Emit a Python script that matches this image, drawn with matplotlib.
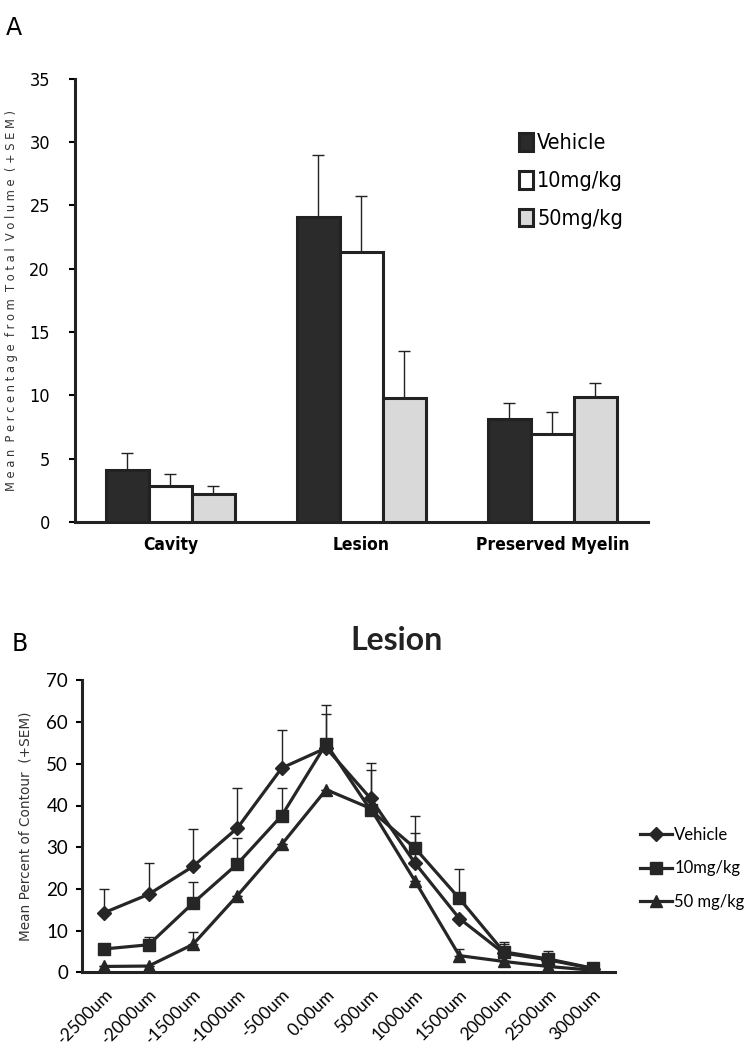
import matplotlib
matplotlib.use("Agg")
import matplotlib.pyplot as plt
from matplotlib import font_manager as fm
import numpy as np

# find a condensed sans font if one is installed
narrow_reg = None
narrow_bold = None
for f in fm.fontManager.ttflist:
    nm = f.name
    if ("Narrow" in nm or "Condensed" in nm or f.stretch in ("condensed", "semi-condensed")) and f.style == "normal":
        if f.weight in ("bold", 700) and narrow_bold is None:
            narrow_bold = f.fname
        elif f.weight in ("normal", "regular", 400) and narrow_reg is None:
            narrow_reg = f.fname


def fpA(size, bold=False):
    fn = narrow_bold if bold else narrow_reg
    if fn:
        return fm.FontProperties(fname=fn, size=size)
    return fm.FontProperties(family="Liberation Sans", size=size * 0.85,
                             weight="bold" if bold else "normal")

# ---------------- Data ----------------
categories = ["Cavity", "Lesion", "Preserved Myelin"]
groups_a = ["Vehicle", "10mg/kg", "50mg/kg"]
vehicle_a = [4.1, 24.1, 8.1]
vehicle_a_err = [1.35, 4.9, 1.3]
mg10_a = [2.8, 21.3, 6.9]
mg10_a_err = [1.0, 4.4, 1.8]
mg50_a = [2.2, 9.8, 9.9]
mg50_a_err = [0.6, 3.7, 1.1]

positions = ["-2500um", "-2000um", "-1500um", "-1000um", "-500um", "0.00um",
             "500um", "1000um", "1500um", "2000um", "2500um", "3000um"]
vehicle_b = [14.3, 18.7, 25.4, 34.6, 49.0, 53.8, 41.7, 26.2, 12.9, 4.6, 3.0, 0.9]
vehicle_b_err = [5.7, 7.5, 9.0, 9.7, 9.1, 8.2, 8.6, 7.2, 0.0, 2.6, 0.0, 0.0]
mg10_b = [5.6, 6.6, 16.6, 26.0, 37.6, 54.8, 38.9, 29.8, 17.7, 4.9, 3.2, 1.0]
mg10_b_err = [0.0, 1.8, 5.0, 6.3, 6.7, 9.3, 9.5, 7.6, 7.0, 2.0, 1.9, 0.6]
mg50_b = [1.4, 1.5, 6.7, 18.4, 30.7, 43.8, 39.3, 21.9, 4.0, 2.6, 1.4, 0.5]
mg50_b_err = [0.0, 0.0, 3.0, 0.0, 0.0, 0.0, 0.0, 0.0, 1.7, 0.0, 0.0, 0.0]
labels_b = ["Vehicle", "10mg/kg", "50 mg/kg"]

ylabel_a = "Mean Percentage from Total Volume (+SEM)"


def spaced(s):
    # letter-spaced text: one space between letters, two between words
    return "  ".join(" ".join(list(wd)) for wd in s.split(" "))

# ---------------- Figure ----------------
fig = plt.figure(figsize=(7.46, 10.5), dpi=100)

# Panel A
axA = fig.add_axes([0.1005, 0.503, 0.768, 0.422])
x = np.arange(len(categories))
w = 0.225
colors = ["#2b2b2b", "#ffffff", "#d9d9d9"]
series = [(vehicle_a, vehicle_a_err), (mg10_a, mg10_a_err), (mg50_a, mg50_a_err)]
handles = []
for i, (vals, errs) in enumerate(series):
    b = axA.bar(x + (i - 1) * w, vals, width=w, color=colors[i], edgecolor="#222222",
                linewidth=2.2, zorder=3, label=groups_a[i])
    axA.errorbar(x + (i - 1) * w, vals, yerr=[np.zeros(len(errs)), errs], fmt="none",
                 ecolor="#222222", elinewidth=1.0, capsize=4, capthick=1.0, zorder=2)
    handles.append(b)
axA.set_xlim(-0.5, 2.5)
axA.set_ylim(0, 35)
axA.set_yticks(range(0, 36, 5))
axA.set_xticks(x)
axA.set_xticklabels(categories)
for t in axA.get_xticklabels():
    t.set_fontproperties(fpA(12.5, bold=True))
axA.tick_params(axis="x", length=0, pad=10)
axA.tick_params(axis="y", length=4, width=1.5, direction="out", pad=14)
for t in axA.get_yticklabels():
    t.set_fontproperties(fpA(13))
for s in ["top", "right"]:
    axA.spines[s].set_visible(False)
for s in ["left", "bottom"]:
    axA.spines[s].set_linewidth(2.2)
    axA.spines[s].set_color("#222222")
axA.set_ylabel(spaced(ylabel_a), fontproperties=fpA(9.2),
               labelpad=8, color="#333333")
legA = axA.legend(handles=handles, labels=groups_a,
                  loc="upper left", bbox_to_anchor=(0.76, 0.896), frameon=False,
                  prop=fpA(15.5), handlelength=0.65, handleheight=0.85,
                  handletextpad=0.2, labelspacing=0.83, borderaxespad=0)

fig.text(0.008, 0.985, "A", fontsize=17, va="top", ha="left")

# Panel B
axB = fig.add_axes([0.11, 0.074, 0.714, 0.278])
xb = np.arange(len(positions))
markers = ["D", "s", "^"]
msizes = [7, 9, 8]
bseries = [(vehicle_b, vehicle_b_err), (mg10_b, mg10_b_err), (mg50_b, mg50_b_err)]
lh = []
for i, (vals, errs) in enumerate(bseries):
    axB.errorbar(xb, vals, yerr=[np.zeros(len(errs)), errs], fmt="none", ecolor="#222222",
                 elinewidth=1.0, capsize=3.5, capthick=1.0, zorder=2)
    l, = axB.plot(xb, vals, color="#262626", linewidth=2.3, marker=markers[i],
                  markersize=msizes[i], zorder=3, label=labels_b[i])
    lh.append(l)
axB.set_xlim(-0.5, 11.5)
axB.set_ylim(0, 70)
axB.set_yticks(range(0, 71, 10))
axB.set_xticks(xb)
axB.set_xticklabels(positions, rotation=45, ha="right", rotation_mode="anchor",
                    fontsize=12.5, family="Lato")
axB.tick_params(axis="x", length=0, pad=10)
axB.tick_params(axis="y", length=4, width=1.5, direction="out", labelsize=13.5, pad=6)
for t in axB.get_yticklabels():
    t.set_family("Lato")
for s in ["top", "right"]:
    axB.spines[s].set_visible(False)
for s in ["left", "bottom"]:
    axB.spines[s].set_linewidth(2.2)
    axB.spines[s].set_color("#222222")
axB.set_ylabel("Mean Percent of Contour  (+SEM)", fontsize=9.8, labelpad=10, color="#333333")
fig.text(0.532, 0.39, "Lesion", fontsize=23, fontweight="bold", family="Lato",
         color="#222222", ha="center", va="center")
axB.legend(handles=lh, loc="center left", bbox_to_anchor=(1.035, 0.356), frameon=False,
           prop={"family": "Lato", "size": 12}, handlelength=1.9, handletextpad=0.15,
           labelspacing=1.05, borderaxespad=0)

fig.text(0.015, 0.398, "B", fontsize=17, va="top", ha="left")

fig.savefig("out.png", dpi=100)
